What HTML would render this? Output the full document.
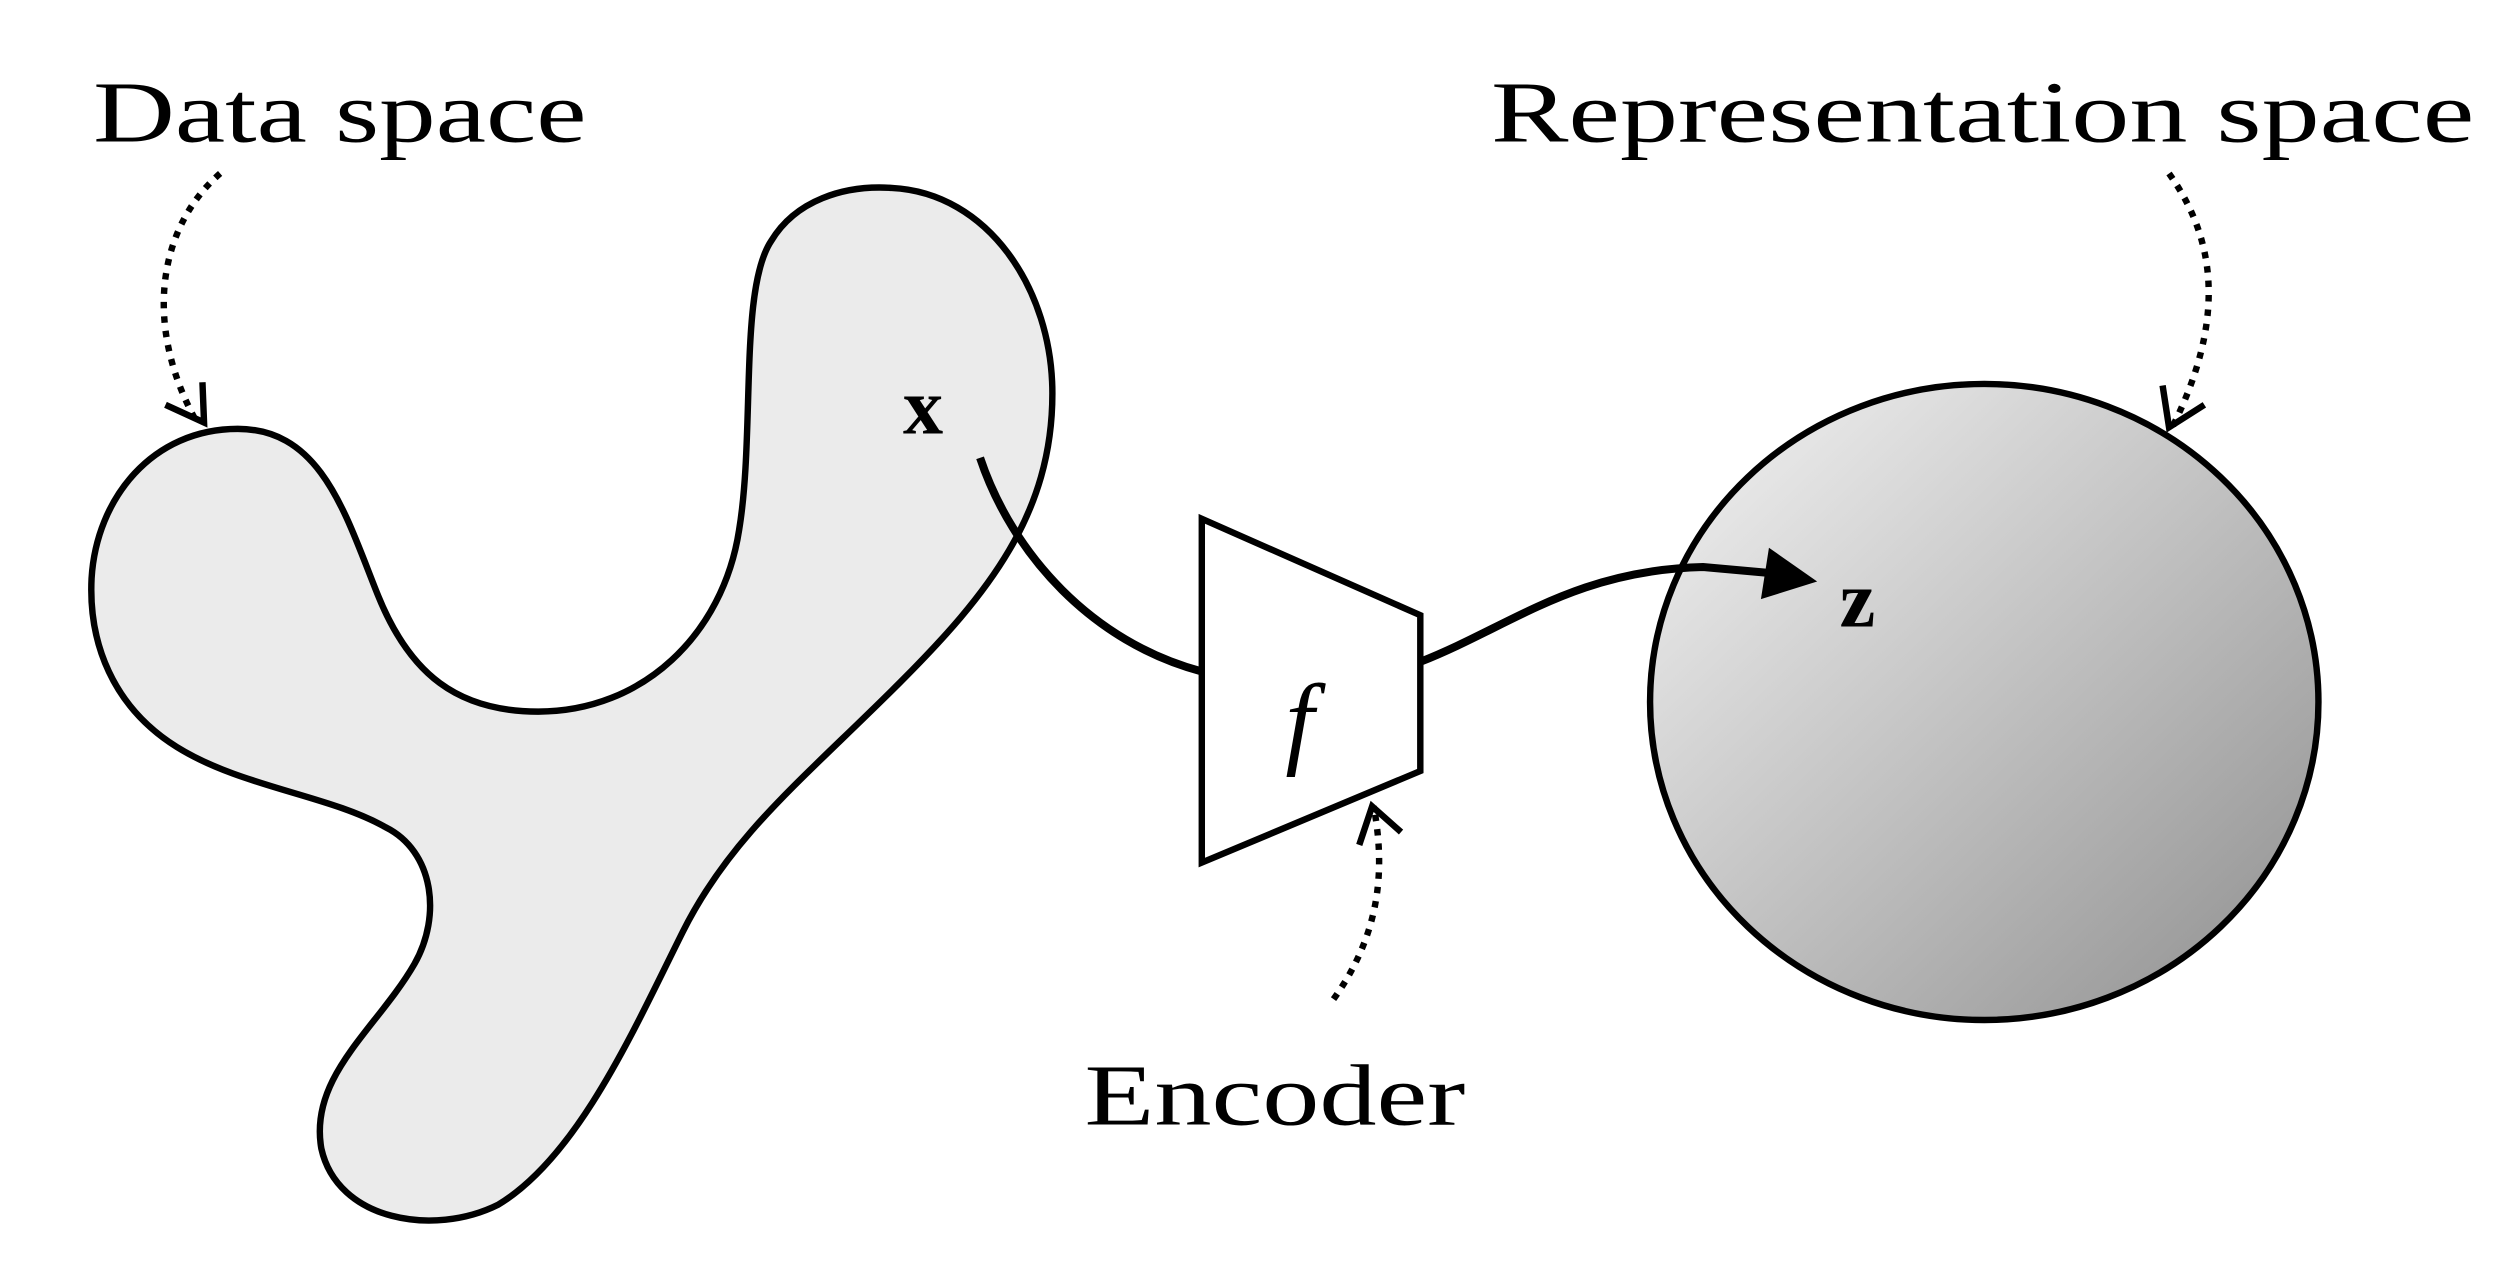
<!DOCTYPE html>
<html><head><style>html,body{margin:0;padding:0;background:#fff}svg{display:block}</style></head>
<body>
<svg width="2500" height="1269" viewBox="0 0 1556 790" preserveAspectRatio="none" xmlns="http://www.w3.org/2000/svg">
<defs>
<linearGradient id="g" x1="0" y1="0" x2="1" y2="1">
<stop offset="0" stop-color="#f5f5f5"/><stop offset="1" stop-color="#8e8e8e"/>
</linearGradient>
</defs>
<g font-family="Liberation Serif, serif" font-size="54" fill="#000">
<text x="58" y="88" textLength="307" lengthAdjust="spacingAndGlyphs">Data space</text>
<text x="928" y="88" textLength="612" lengthAdjust="spacingAndGlyphs">Representation space</text>
<text x="675" y="700" textLength="237" lengthAdjust="spacingAndGlyphs">Encoder</text>
</g>
<path d="M148,267 C200,267 215,320 235,370 C255,420 285,443 335,443 C400,443 450,395 460,330 C470,270 460,180 480,150 C495,125 525,115 555,117 C615,120 655,180 655,245 C655,320 615,370 560,425 C500,485 455,520 425,580 C395,640 360,720 310,750 C270,770 210,760 200,715 C192,670 235,640 258,600 C275,570 270,530 240,515 C205,495 150,490 110,465 C70,440 55,400 57,360 C60,310 95,267 148,267 Z" fill="#ebebeb" stroke="#000" stroke-width="4"/>
<ellipse cx="1235" cy="437" rx="208" ry="198" fill="url(#g)" stroke="#000" stroke-width="4"/>
<text x="562" y="270" font-family="Liberation Serif, serif" font-weight="bold" font-size="50">x</text>
<path d="M610,285 C630,345 680,400 748,418" fill="none" stroke="#000" stroke-width="5"/>
<polygon points="748,323 884,383 884,480 748,537" fill="#fff" stroke="#000" stroke-width="4"/>
<text x="800" y="470" font-family="Liberation Serif, serif" font-style="italic" font-size="64">f</text>
<path d="M884,412 C940,390 980,355 1060,353 L1105,357" fill="none" stroke="#000" stroke-width="5"/>
<polygon points="1131,362 1101,341 1096,373" fill="#000"/>
<text x="1145" y="390" font-family="Liberation Serif, serif" font-weight="bold" font-size="50">z</text>
<g fill="none" stroke="#000" stroke-width="4">
<path d="M137,108 C100,140 88,200 122,262" stroke-dasharray="4,5"/>
<path d="M103,252 L127,263 L126,238"/>
<path d="M1350,108 C1380,150 1385,200 1352,266" stroke-dasharray="4,5"/>
<path d="M1346,240 L1350,266 L1372,252"/>
<path d="M830,622 C860,580 862,540 855,502" stroke-dasharray="4,5"/>
<path d="M846,526 L854,502 L872,518"/>
</g>
</svg>
</body></html>
